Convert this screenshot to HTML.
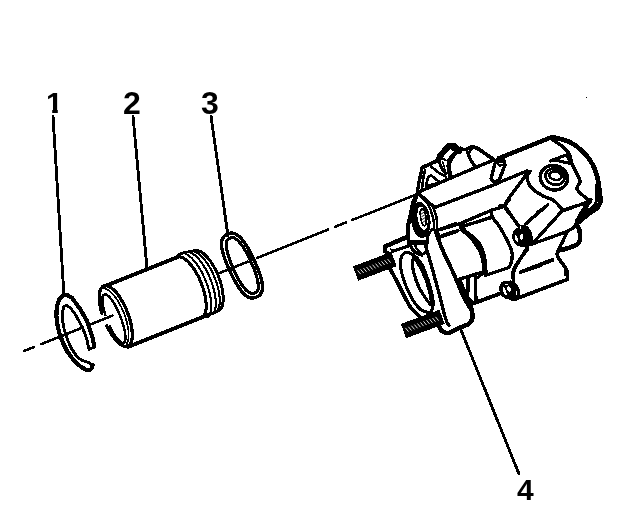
<!DOCTYPE html>
<html><head><meta charset="utf-8"><title>Caliper piston exploded view</title>
<style>
html,body{margin:0;padding:0;background:#fff;}
body{width:640px;height:524px;overflow:hidden;position:relative;}
svg{position:absolute;left:0;top:0;display:block;}
.lbl{position:absolute;font-family:"Liberation Sans",sans-serif;font-weight:bold;font-size:30px;line-height:30px;color:#000;will-change:transform;-webkit-font-smoothing:antialiased;}
</style></head><body>
<svg width="640" height="524" viewBox="0 0 640 524" stroke-linecap="round" stroke-linejoin="round" shape-rendering="crispEdges">
<path d="M24.0 351.0 L34.0 347.0" stroke="#000" stroke-width="2.6" fill="none"/>
<path d="M41.0 344.2 L81.5 328.1" stroke="#000" stroke-width="2.6" fill="none"/>
<path d="M89.5 324.9 L112.5 315.7" stroke="#000" stroke-width="2.6" fill="none"/>
<path d="M217.0 274.0 L247.8 261.7" stroke="#000" stroke-width="2.6" fill="none"/>
<path d="M257.0 258.0 L328.0 229.7" stroke="#000" stroke-width="2.6" fill="none"/>
<path d="M335.0 226.9 L346.0 222.5" stroke="#000" stroke-width="2.6" fill="none"/>
<path d="M352.5 219.9 L416.0 194.6" stroke="#000" stroke-width="2.6" fill="none"/>
<path d="M53.0 116.0 L64.0 296.0" stroke="#000" stroke-width="2.86" fill="none"/>
<path d="M133.0 116.0 L147.0 268.0" stroke="#000" stroke-width="2.86" fill="none"/>
<path d="M211.0 116.0 L228.0 236.0" stroke="#000" stroke-width="2.86" fill="none"/>
<path d="M461.0 330.0 L519.0 474.0" stroke="#000" stroke-width="2.86" fill="none"/>
<path d="M94.4 346.7 L92.6 337.6 L87.2 321.3 L79.9 308.6 L71.8 297.7 L67.5 295.2 L63.8 295.0 L59.6 298.6 L56.7 306.8 L56.4 316.0 L57.5 325.0 L59.7 334.0 L63.0 343.0 L67.0 351.0 L71.6 357.6 L76.4 363.0 L81.7 367.4 L86.0 369.6 L89.9 370.1 L92.0 368.0 L92.6 364.9" fill="none" stroke="#000" stroke-width="4.16" />
<path d="M94.4 346.7 L89.0 349.4 L86.5 338.0 L82.5 327.5 L75.0 313.8 L70.0 307.5 L66.4 305.4 L64.0 306.5 L62.6 311.0 L62.4 320.0 L64.5 331.0 L67.6 340.0 L71.2 348.0 L75.6 354.6 L79.4 358.6 L82.8 360.8 L87.5 362.0 L92.6 364.9" fill="none" stroke="#000" stroke-width="2.86" />
<path d="M106.7 325.7 L108.1 328.4 L109.6 331.1 L111.1 333.6 L112.7 335.9 L114.3 338.1 L115.9 340.0 L117.5 341.7 L119.1 343.2 L120.6 344.4 L122.2 345.3 L123.6 346.0 L125.0 346.3 L126.3 346.4 L127.5 346.2 L128.6 345.7 L129.5 344.9 L130.4 343.9 L131.0 342.5 L131.6 340.9 L132.0 339.1 L132.2 337.1 L132.3 334.8 L132.2 332.4 L132.0 329.8 L131.6 327.1 L131.1 324.3 L130.4 321.4 L129.6 318.5 L128.6 315.5 L127.5 312.5 L126.4 309.6 L125.1 306.7 L123.7 303.9 L122.2 301.3 L120.7 298.7 L119.2 296.4 L117.6 294.2 L116.0 292.2 L114.3 290.5 L112.7 289.0 L111.2 287.8 L109.7 286.8 L108.2 286.1 L106.8 285.7 L105.5 285.6 L104.3 285.7 L103.2 286.2 L102.2 287.0 L101.4 288.0 L100.6 289.3 L100.1 290.8 L99.7 292.6 L99.4 294.6 L99.3 296.8 L99.3 299.2 L99.6 301.8 L99.9 304.5 L100.4 307.3 L101.1 310.2 L101.9 313.1" fill="none" stroke="#000" stroke-width="3.25" />
<path d="M126.6 344.2 L126.9 343.6 L127.2 342.9 L127.5 342.2 L127.8 341.4 L128.0 340.6 L128.2 339.7 L128.4 338.8 L128.5 337.9 L128.6 336.8 L128.6 335.8 L128.6 334.7 L128.6 333.5 L128.6 332.4 L128.5 331.1 L128.3 329.9 L128.2 328.6 L128.0 327.3 L127.7 326.0 L127.4 324.7 L127.1 323.3 L126.8 322.0 L126.4 320.6 L126.0 319.2 L125.6 317.8 L125.1 316.4 L124.6 315.0 L124.1 313.6 L123.6 312.3 L123.0 310.9 L122.4 309.6 L121.8 308.2 L121.2 306.9 L120.5 305.6 L119.8 304.4 L119.1 303.1 L118.4 301.9 L117.7 300.8 L117.0 299.6 L116.2 298.6 L115.5 297.5 L114.7 296.5 L114.0 295.5 L113.2 294.6 L112.4 293.8 L111.7 293.0 L110.9 292.2 L110.1 291.5 L109.4 290.9 L108.6 290.3 L107.9 289.8 L107.2 289.4 L106.4 289.0 L105.7 288.7 L105.0 288.4 L104.4 288.2 L103.7 288.1 L103.1 288.0 L102.5 288.0 L101.9 288.1 L101.3 288.2" fill="none" stroke="#000" stroke-width="1.69" />
<path d="M109.7 326.1 L110.8 328.3 L111.9 330.4 L113.0 332.4 L114.1 334.3 L115.2 336.0 L116.3 337.6 L117.4 338.9 L118.5 340.1 L119.5 341.1 L120.4 341.9 L121.3 342.4 L122.1 342.8 L122.9 342.9 L123.5 342.8 L124.1 342.4 L124.6 341.8 L124.9 341.0 L125.2 340.0 L125.4 338.8 L125.4 337.4 L125.4 335.8 L125.2 334.1 L124.9 332.2 L124.6 330.2 L124.1 328.0 L123.5 325.8 L122.8 323.5 L122.1 321.2 L121.3 318.9 L120.4 316.5 L119.4 314.2 L118.4 311.9 L117.4 309.6 L116.3 307.5 L115.2 305.5 L114.1 303.5 L113.0 301.8 L111.8 300.1 L110.8 298.7 L109.7 297.4 L108.7 296.4 L107.7 295.5 L106.8 294.9 L105.9 294.5 L105.2 294.3 L104.5 294.4 L103.9 294.7 L103.4 295.2 L103.0 295.9 L102.7 296.8 L102.5 298.0 L102.4 299.3 L102.4 300.8 L102.5 302.5 L102.8 304.4 L103.1 306.3 L103.6 308.4 L104.1 310.6 L104.7 312.9 L105.4 315.2" fill="none" stroke="#000" stroke-width="2.47" />
<path d="M103.8 286.5 L177.2 257.2" stroke="#000" stroke-width="3.9" fill="none"/>
<path d="M127.8 346.9 L207.7 315.0" stroke="#000" stroke-width="3.9" fill="none"/>
<path d="M201.1 318.4 L201.7 318.1 L202.3 317.7 L202.8 317.3 L203.3 316.7 L203.8 316.1 L204.2 315.5 L204.6 314.7 L205.0 313.9 L205.3 313.0 L205.5 312.0 L205.8 311.0 L205.9 309.9 L206.1 308.8 L206.1 307.6 L206.2 306.4 L206.2 305.1 L206.1 303.7 L206.0 302.4 L205.9 300.9 L205.7 299.5 L205.5 298.0 L205.2 296.5 L204.9 295.0 L204.5 293.4 L204.1 291.8 L203.7 290.2 L203.2 288.7 L202.7 287.1 L202.1 285.5 L201.6 283.9 L200.9 282.3 L200.3 280.8 L199.6 279.2 L198.9 277.7 L198.2 276.2 L197.4 274.8 L196.6 273.3 L195.8 272.0 L195.0 270.6 L194.2 269.3 L193.3 268.0 L192.4 266.8 L191.6 265.7 L190.7 264.6 L189.8 263.6 L188.9 262.6 L188.0 261.7 L187.1 260.9 L186.3 260.1 L185.4 259.4 L184.5 258.8 L183.7 258.3 L182.8 257.8 L182.0 257.4 L181.2 257.1 L180.4 256.9 L179.7 256.8 L178.9 256.7 L178.2 256.7 L177.5 256.8" fill="none" stroke="#000" stroke-width="3.12" />
<path d="M208.0 317.2 L208.5 316.7 L209.0 316.1 L209.4 315.4 L209.8 314.7 L210.1 313.9 L210.4 313.0 L210.7 312.1 L210.9 311.1 L211.1 310.0 L211.2 308.9 L211.3 307.7 L211.3 306.4 L211.3 305.1 L211.3 303.8 L211.2 302.4 L211.0 301.0 L210.8 299.5 L210.6 298.0 L210.4 296.5 L210.0 294.9 L209.7 293.3 L209.3 291.7 L208.9 290.1 L208.4 288.5 L207.9 286.9 L207.4 285.2 L206.8 283.6 L206.2 282.0 L205.5 280.3 L204.8 278.7 L204.1 277.1 L203.4 275.6 L202.7 274.0 L201.9 272.5 L201.1 271.1 L200.3 269.6 L199.5 268.2 L198.6 266.9 L197.7 265.6 L196.9 264.3 L196.0 263.1 L195.1 262.0 L194.2 260.9 L193.3 259.9 L192.4 258.9 L191.6 258.0 L190.7 257.2 L189.8 256.4 L188.9 255.8 L188.1 255.2 L187.2 254.6 L186.4 254.2 L185.6 253.8 L184.8 253.5 L184.1 253.3 L183.3 253.2 L182.6 253.2 L181.9 253.2 L181.3 253.3 L180.6 253.5" fill="none" stroke="#000" stroke-width="2.08" />
<path d="M213.0 313.9 L213.5 313.3 L213.9 312.6 L214.2 311.9 L214.6 311.1 L214.9 310.3 L215.1 309.3 L215.3 308.4 L215.5 307.3 L215.6 306.2 L215.7 305.1 L215.7 303.9 L215.7 302.6 L215.7 301.3 L215.6 300.0 L215.5 298.6 L215.3 297.2 L215.1 295.8 L214.9 294.3 L214.6 292.8 L214.3 291.3 L213.9 289.8 L213.5 288.2 L213.0 286.7 L212.6 285.1 L212.1 283.6 L211.5 282.0 L210.9 280.5 L210.3 278.9 L209.7 277.4 L209.0 275.9 L208.4 274.4 L207.6 272.9 L206.9 271.4 L206.1 270.0 L205.4 268.6 L204.6 267.3 L203.8 266.0 L203.0 264.7 L202.1 263.5 L201.3 262.3 L200.4 261.2 L199.6 260.1 L198.7 259.1 L197.9 258.2 L197.0 257.3 L196.1 256.5 L195.3 255.7 L194.5 255.0 L193.6 254.4 L192.8 253.8 L192.0 253.4 L191.2 253.0 L190.4 252.6 L189.6 252.4 L188.9 252.2 L188.2 252.1 L187.5 252.1 L186.8 252.1 L186.2 252.2 L185.6 252.4" fill="none" stroke="#000" stroke-width="2.08" />
<path d="M216.6 311.9 L217.1 311.3 L217.5 310.7 L217.9 310.0 L218.3 309.3 L218.6 308.5 L218.9 307.6 L219.1 306.7 L219.3 305.7 L219.5 304.6 L219.6 303.5 L219.7 302.3 L219.7 301.1 L219.7 299.9 L219.7 298.6 L219.6 297.2 L219.4 295.9 L219.2 294.5 L219.0 293.0 L218.8 291.6 L218.5 290.1 L218.1 288.6 L217.8 287.0 L217.3 285.5 L216.9 284.0 L216.4 282.4 L215.9 280.9 L215.3 279.3 L214.7 277.8 L214.1 276.3 L213.5 274.8 L212.8 273.3 L212.1 271.8 L211.4 270.4 L210.6 269.0 L209.9 267.6 L209.1 266.3 L208.3 265.0 L207.5 263.7 L206.7 262.5 L205.8 261.3 L205.0 260.2 L204.1 259.1 L203.3 258.1 L202.4 257.2 L201.6 256.3 L200.7 255.5 L199.8 254.7 L199.0 254.1 L198.2 253.4 L197.3 252.9 L196.5 252.4 L195.7 252.0 L194.9 251.7 L194.2 251.4 L193.4 251.3 L192.7 251.2 L192.0 251.1 L191.3 251.2 L190.7 251.3 L190.0 251.5" fill="none" stroke="#000" stroke-width="2.08" />
<path d="M218.1 311.0 L218.7 310.7 L219.3 310.3 L219.8 309.8 L220.4 309.3 L220.8 308.7 L221.3 308.0 L221.7 307.2 L222.0 306.4 L222.3 305.5 L222.6 304.5 L222.8 303.4 L223.0 302.3 L223.1 301.2 L223.2 300.0 L223.2 298.7 L223.2 297.4 L223.1 296.0 L223.0 294.6 L222.9 293.2 L222.7 291.7 L222.4 290.2 L222.1 288.6 L221.8 287.1 L221.4 285.5 L221.0 283.9 L220.5 282.3 L220.0 280.7 L219.5 279.1 L218.9 277.6 L218.3 276.0 L217.7 274.4 L217.0 272.9 L216.3 271.3 L215.6 269.8 L214.8 268.4 L214.0 266.9 L213.2 265.5 L212.4 264.2 L211.5 262.8 L210.7 261.6 L209.8 260.4 L208.9 259.2 L208.0 258.1 L207.1 257.1 L206.2 256.1 L205.3 255.2 L204.4 254.4 L203.6 253.6 L202.7 253.0 L201.8 252.4 L200.9 251.8 L200.1 251.4 L199.2 251.0 L198.4 250.7 L197.6 250.5 L196.9 250.4 L196.1 250.4 L195.4 250.4 L194.7 250.6 L194.1 250.8" fill="none" stroke="#000" stroke-width="2.99" />
<path d="M176.6 257.1 L180.6 253.5 L185.6 252.4 L190.0 251.5 L194.1 250.8" fill="none" stroke="#000" stroke-width="2.86" />
<path d="M207.7 315.0 L218.1 311.0" fill="none" stroke="#000" stroke-width="2.86" />
<path d="M256.6 297.0 L258.1 296.2 L259.1 295.5 L260.0 294.8 L260.6 293.9 L261.2 293.0 L261.6 292.1 L262.0 291.0 L262.2 289.8 L262.4 288.5 L262.4 287.2 L262.4 285.7 L262.3 284.2 L262.0 282.5 L261.7 280.8 L261.3 279.0 L260.8 277.1 L260.2 275.1 L259.4 272.9 L258.6 270.7 L257.6 268.2 L256.5 265.6 L255.1 262.4 L252.9 257.7 L251.3 254.5 L250.0 251.9 L248.8 249.6 L247.6 247.5 L246.4 245.6 L245.3 243.8 L244.1 242.2 L243.0 240.7 L241.9 239.4 L240.8 238.1 L239.7 237.0 L238.6 236.1 L237.5 235.3 L236.5 234.6 L235.4 234.0 L234.3 233.6 L233.3 233.3 L232.3 233.1 L231.2 233.1 L230.1 233.3 L228.9 233.6 L227.4 234.2 L225.9 235.0 L224.9 235.7 L224.0 236.4 L223.4 237.3 L222.8 238.2 L222.4 239.1 L222.0 240.2 L221.8 241.4 L221.6 242.7 L221.6 244.0 L221.6 245.5 L221.7 247.0 L222.0 248.7 L222.3 250.4 L222.7 252.2 L223.2 254.1 L223.8 256.1 L224.6 258.3 L225.4 260.5 L226.4 263.0 L227.5 265.6 L228.9 268.8 L231.1 273.5 L232.7 276.7 L234.0 279.3 L235.2 281.6 L236.4 283.7 L237.6 285.6 L238.7 287.4 L239.9 289.0 L241.0 290.5 L242.1 291.8 L243.2 293.1 L244.3 294.2 L245.4 295.1 L246.5 295.9 L247.5 296.6 L248.6 297.2 L249.7 297.6 L250.7 297.9 L251.7 298.1 L252.8 298.1 L253.9 297.9 L255.1 297.6 Z" fill="none" stroke="#000" stroke-width="3.38" />
<path d="M254.8 293.1 L255.7 292.6 L256.4 292.1 L256.9 291.5 L257.3 290.9 L257.7 290.1 L258.0 289.2 L258.1 288.3 L258.3 287.3 L258.3 286.1 L258.2 284.9 L258.1 283.6 L257.9 282.2 L257.7 280.7 L257.3 279.2 L256.9 277.6 L256.4 275.9 L255.9 274.1 L255.2 272.2 L254.5 270.2 L253.7 268.1 L252.7 265.9 L251.6 263.4 L250.1 260.0 L248.9 257.5 L247.8 255.4 L246.8 253.4 L245.8 251.5 L244.8 249.8 L243.8 248.2 L242.9 246.7 L241.9 245.3 L241.0 244.1 L240.0 242.9 L239.1 241.8 L238.2 240.9 L237.3 240.1 L236.4 239.3 L235.6 238.8 L234.7 238.3 L233.9 237.9 L233.1 237.7 L232.3 237.6 L231.5 237.6 L230.7 237.8 L229.8 238.1 L228.9 238.6 L228.2 239.1 L227.7 239.7 L227.3 240.3 L226.9 241.1 L226.6 242.0 L226.5 242.9 L226.3 243.9 L226.3 245.1 L226.4 246.3 L226.5 247.6 L226.7 249.0 L226.9 250.5 L227.3 252.0 L227.7 253.6 L228.2 255.3 L228.7 257.1 L229.4 259.0 L230.1 261.0 L230.9 263.1 L231.9 265.3 L233.0 267.8 L234.5 271.2 L235.7 273.7 L236.8 275.8 L237.8 277.8 L238.8 279.7 L239.8 281.4 L240.8 283.0 L241.7 284.5 L242.7 285.9 L243.6 287.1 L244.6 288.3 L245.5 289.4 L246.4 290.3 L247.3 291.1 L248.2 291.9 L249.0 292.4 L249.9 292.9 L250.7 293.3 L251.5 293.5 L252.3 293.6 L253.1 293.6 L253.9 293.4 Z" fill="none" stroke="#000" stroke-width="3.12" />
<path d="M417.2 192.6 L451.6 177.7 L492.3 160.5" fill="none" stroke="#000" stroke-width="3.38" />
<path d="M433.6 207.9 L500.2 182.4" fill="none" stroke="#000" stroke-width="3.38" />
<path d="M418.5 193.4 L433.6 206.7" fill="none" stroke="#000" stroke-width="3.38" />
<path d="M417.2 192.6 L419.1 181.6 L422.2 167.6" fill="none" stroke="#000" stroke-width="3.38" />
<path d="M422.2 167.6 L437.6 160.5 L439.1 155.0 L448.5 144.9 L454.8 144.9 L458.2 149.1 L465.7 149.6 L472.8 146.4 L478.2 148.8 L493.9 159.7" fill="none" stroke="#000" stroke-width="3.77" />
<path d="M437.9 159.8 L438.5 154.6 L447.2 144.4 L454.7 143.9 L457.6 147.2 L454.7 152.6 L451.9 159.2 L447.2 160.4 L442.5 158.8 Z" fill="#000" stroke="#000" stroke-width="1.95" />
<path d="M456.7 152.4 C456.1 153.0 454.3 155.1 453.4 156.3 C452.5 157.6 451.6 159.2 451.2 159.8" fill="none" stroke="#000" stroke-width="3.38"/>
<path d="M442.8 157.3 L450.2 149.1 L453.8 151.7 L446.6 159.7 Z" fill="#fff" stroke="#000" stroke-width="0.65" stroke-opacity="0"/>
<path d="M450.9 158.6 C450.6 159.6 448.9 161.9 448.7 164.8 C448.5 167.7 449.7 174.1 450.0 175.9" fill="none" stroke="#000" stroke-width="4.42"/>
<path d="M438.8 159.8 C439.2 161.1 440.1 165.2 441.3 167.5 C442.4 169.8 445.0 172.7 445.7 173.7" fill="none" stroke="#000" stroke-width="3.12"/>
<path d="M442.5 161.3 L445.4 171.0" fill="none" stroke="#000" stroke-width="1.56" />
<path d="M456.2 152.4 L460.4 152.4 L460.6 147.9" fill="none" stroke="#000" stroke-width="2.86" />
<path d="M425.0 169.9 L423.5 176.9 L421.9 188.7" fill="none" stroke="#000" stroke-width="2.6" />
<path d="M425.8 185.6 L428.2 176.9 L431.3 175.4 L439.9 182.4 L425.8 186.3 Z" fill="none" stroke="#000" stroke-width="2.6" />
<path d="M431.3 166.8 L439.1 173.0 L446.2 176.9" fill="none" stroke="#000" stroke-width="2.6" />
<path d="M467.3 151.9 L470.4 159.7 L475.9 167.6" fill="none" stroke="#000" stroke-width="3.38" />
<path d="M472.8 146.4 L468.9 153.5" fill="none" stroke="#000" stroke-width="2.6" />
<path d="M498.8 158.2 L552.0 137.0" fill="none" stroke="#000" stroke-width="4.42" />
<path d="M495.6 161.3 L491.0 178.5 L493.3 181.6 L498.8 180.9 L505.0 165.2 L503.5 159.0 L498.8 158.2 L495.6 161.3 Z" fill="none" stroke="#000" stroke-width="3.38" />
<path d="M495.6 161.3 L498.8 158.2 L503.5 159.0 L505.0 165.2 L499.6 165.7 Z" fill="#000" stroke="#000" stroke-width="1.95" />
<path d="M499.1 163.2 L502.7 163.2" fill="none" stroke="#000" stroke-width="1.04" style="stroke:#fff"/>
<path d="M500.0 182.1 L526.9 171.0 L530.1 171.5" fill="none" stroke="#000" stroke-width="3.38" />
<path d="M527.2 170.8 L524.5 177.0 L520.2 182.8 L507.8 199.6 L504.4 205.8" fill="none" stroke="#000" stroke-width="3.38" />
<path d="M503.5 205.1 L507.4 212.0" fill="none" stroke="#000" stroke-width="2.6" />
<path d="M530.1 171.5 C529.6 172.4 526.7 174.2 526.9 176.9 C527.2 179.7 529.0 184.8 531.6 187.9 C534.3 191.0 538.9 193.6 542.6 195.7 C546.2 197.8 550.4 198.3 553.6 200.4 C556.7 202.5 559.6 206.6 561.4 208.2 C563.2 209.9 564.0 209.8 564.5 210.1" fill="none" stroke="#000" stroke-width="3.38"/>
<ellipse cx="553.9" cy="177.7" rx="13.8" ry="12.2" fill="none" stroke="#000" stroke-width="3.4" transform="rotate(15 553.9 177.7)"/>
<ellipse cx="555.1" cy="176.6" rx="9.6" ry="8.0" fill="none" stroke="#000" stroke-width="2.9" transform="rotate(15 555.1 176.6)"/>
<ellipse cx="555.4" cy="175.7" rx="6.2" ry="4.2" fill="none" stroke="#000" stroke-width="2.6" transform="rotate(10 555.4 175.7)"/>
<path d="M550.1 161.0 L566.9 154.7 L570.5 163.6 L558.2 160.7 Z" fill="none" stroke="#000" stroke-width="3.12" />
<path d="M545.7 206.7 L537.9 212.0" fill="none" stroke="#000" stroke-width="3.12" />
<path d="M551.9 137.0 C554.8 137.8 563.9 139.3 569.1 141.7 C574.3 144.2 579.3 148.1 583.2 151.9 C587.1 155.7 590.3 160.3 592.6 164.4 C594.9 168.6 596.2 172.8 597.3 176.9 C598.4 181.1 598.9 186.7 599.3 189.5 C599.8 192.3 599.8 191.6 600.0 193.8 C600.2 195.9 600.8 200.1 600.2 202.5 C599.7 204.9 598.6 206.4 596.9 208.1 C595.2 209.8 592.6 210.8 590.0 212.8 C587.4 214.7 583.5 218.1 581.2 220.0 C579.0 221.9 577.3 223.3 576.5 224.0" fill="none" stroke="#000" stroke-width="4.68"/>
<path d="M596.2 185.0 C596.3 187.3 597.1 195.2 596.8 198.8 C596.4 202.2 595.5 203.9 594.0 206.0 C592.5 208.1 589.6 209.4 587.5 211.2 C585.4 213.1 582.3 216.2 581.2 217.2" fill="none" stroke="#000" stroke-width="3.12"/>
<path d="M590.2 201.9 C589.6 202.5 587.8 203.8 586.2 205.6 C584.8 207.4 582.8 210.3 581.2 212.8 C579.7 215.2 577.7 219.0 577.0 220.2" fill="none" stroke="#000" stroke-width="3.38"/>
<path d="M576.5 224.0 C576.7 224.4 577.2 225.5 577.8 226.5 C578.2 227.5 579.1 228.0 579.5 230.2 C579.9 232.5 580.4 237.6 580.0 240.0 C579.6 242.4 578.7 243.2 577.0 244.5 C575.3 245.8 572.6 246.6 570.0 247.5 C567.4 248.4 562.7 249.6 561.2 250.0" fill="none" stroke="#000" stroke-width="4.68"/>
<path d="M551.9 139.4 C553.5 140.4 558.4 143.3 561.3 145.6 C564.2 148.0 567.3 150.3 569.1 153.5 C570.9 156.6 570.9 161.0 572.3 164.4 C573.6 167.8 575.6 170.9 576.9 173.8 C578.3 176.7 580.1 179.2 580.1 181.6 C580.1 184.1 576.4 186.3 576.9 188.7 C577.5 191.0 581.0 193.6 583.2 195.7 C585.4 197.8 589.1 200.3 590.3 201.2" fill="none" stroke="#000" stroke-width="3.38"/>
<path d="M564.7 210.1 L590.3 201.2" fill="none" stroke="#000" stroke-width="3.38" />
<path d="M504.7 205.6 L517.2 224.4" fill="none" stroke="#000" stroke-width="3.38" />
<path d="M500.0 205.6 L504.7 205.2" fill="none" stroke="#000" stroke-width="3.38" />
<ellipse cx="524.4" cy="236.2" rx="7" ry="10.5" fill="#000" stroke="#000" stroke-width="2.4" transform="rotate(-15 524.4 236.2)"/>
<ellipse cx="519.9" cy="237.2" rx="6.5" ry="8.5" fill="#000" stroke="#000" stroke-width="2.2" transform="rotate(-15 519.9 237.2)"/>
<ellipse cx="521.6" cy="237" rx="1.7" ry="2.9" fill="#fff" transform="rotate(10 521.6 237)"/>
<ellipse cx="516.4" cy="238.4" rx="1.3" ry="3.8" fill="#fff" transform="rotate(-18 516.4 238.4)"/>
<rect x="519.8" y="226" width="1.3" height="2.6" fill="#fff"/>
<path d="M525.8 223.6 L547.7 204.9" fill="none" stroke="#000" stroke-width="3.38" />
<path d="M562.6 210.3 L587.6 202.5 L590.8 199.4" fill="none" stroke="#000" stroke-width="3.38" />
<path d="M562.6 210.3 L532.1 244.0" fill="none" stroke="#000" stroke-width="3.38" />
<path d="M532.1 244.0 L567.3 231.5 L573.6 227.6 L587.6 205.6" fill="none" stroke="#000" stroke-width="3.38" />
<path d="M567.3 231.5 C566.5 233.2 564.3 238.0 562.6 241.6 C560.9 245.3 557.5 250.3 557.1 253.4 C556.7 256.5 558.8 257.9 560.3 260.4 C561.7 262.9 564.8 265.9 565.7 268.2 C566.6 270.6 565.7 273.5 565.7 274.5" fill="none" stroke="#000" stroke-width="3.38"/>
<path d="M520.3 272.0 L552.4 259.6" fill="none" stroke="#000" stroke-width="3.38" />
<path d="M526.9 250.0 C525.4 252.1 519.9 258.9 517.6 262.5 C515.2 266.2 513.5 268.8 512.9 271.9 C512.2 275.0 513.5 279.7 513.6 281.3" fill="none" stroke="#000" stroke-width="3.38"/>
<path d="M516.0 298.8 L567.6 279.3" fill="none" stroke="#000" stroke-width="3.64" />
<path d="M567.6 279.3 C567.5 277.8 567.9 273.1 566.9 270.3 C565.8 267.6 562.9 264.9 561.4 262.5 C559.8 260.2 558.0 258.2 557.5 256.3 C556.9 254.3 558.1 251.7 558.2 250.8" fill="none" stroke="#000" stroke-width="3.38"/>
<path d="M520.7 271.9 L552.8 260.2" fill="none" stroke="#000" stroke-width="3.38" />
<ellipse cx="512.0" cy="290.9" rx="6.5" ry="9.5" fill="#000" stroke="#000" stroke-width="2.4" transform="rotate(-20 512.0 290.9)"/>
<ellipse cx="507.0" cy="289.9" rx="6.5" ry="8.5" fill="#000" stroke="#000" stroke-width="2.2" transform="rotate(-20 507.0 289.9)"/>
<ellipse cx="504.6" cy="291" rx="1.4" ry="4.4" fill="#fff" transform="rotate(-20 504.6 291)"/>
<ellipse cx="509" cy="289" rx="2.0" ry="2.6" fill="#fff" transform="rotate(-30 509 289)"/>
<rect x="515.8" y="291" width="1.2" height="4.4" fill="#fff"/>
<rect x="505" y="283.6" width="3.2" height="1.1" fill="#fff"/>
<path d="M440.0 229.7 L460.3 223.5 L491.6 210.2 L504.2 206.3 L508.9 200.0" fill="none" stroke="#000" stroke-width="3.38" />
<path d="M443.1 235.2 L458.0 230.5" fill="none" stroke="#000" stroke-width="3.38" />
<path d="M465.0 225.8 L488.5 218.0" fill="none" stroke="#000" stroke-width="3.12" />
<path d="M460.3 223.5 C460.6 224.5 459.8 227.1 461.6 229.4 C463.4 231.8 468.1 233.9 471.3 237.6 C474.5 241.3 478.9 249.1 480.7 251.6 C482.5 254.1 481.5 250.5 482.3 252.5 C483.0 254.5 485.1 260.3 485.4 263.5 C485.7 266.6 484.8 269.6 484.1 271.3 C483.5 273.0 481.9 273.5 481.5 274.0" fill="none" stroke="#000" stroke-width="3.9"/>
<path d="M463.5 231.3 C465.6 233.4 472.9 239.1 476.0 243.8 C479.1 248.5 481.1 254.9 482.3 259.5 C483.4 264.0 482.9 269.2 483.0 271.2" fill="none" stroke="#000" stroke-width="2.6"/>
<path d="M491.6 210.2 C491.8 211.3 491.1 214.5 492.4 217.2 C493.7 220.0 497.0 222.7 499.5 226.6 C501.9 230.5 505.2 236.4 507.3 240.7 C509.4 245.0 511.3 249.0 512.0 252.5 C512.7 256.1 511.9 259.4 511.4 261.9 C510.8 264.4 509.3 266.6 508.9 267.5" fill="none" stroke="#000" stroke-width="3.38"/>
<path d="M459.6 279.1 L482.3 272.2" fill="none" stroke="#000" stroke-width="3.38" />
<path d="M481.5 274.0 L478.0 277.6" fill="none" stroke="#000" stroke-width="2.6" />
<path d="M485.4 275.4 L508.9 267.5" fill="none" stroke="#000" stroke-width="3.38" />
<path d="M459.6 279.1 L467.4 297.9 L473.6 303.4" fill="none" stroke="#000" stroke-width="3.38" />
<path d="M468.2 279.4 L467.7 296.7" fill="none" stroke="#000" stroke-width="3.38" />
<path d="M475.4 277.2 L475.8 302.6" fill="none" stroke="#000" stroke-width="3.64" />
<path d="M473.6 303.4 L501.0 293.2" fill="none" stroke="#000" stroke-width="3.9" />
<path d="M504.2 206.3 L518.2 225.0" fill="none" stroke="#000" stroke-width="3.38" />
<path d="M540.2 211.0 L525.3 224.3" fill="none" stroke="#000" stroke-width="3.38" />
<path d="M527.6 246.9 C526.1 249.6 520.6 258.4 518.2 262.6 C515.9 266.8 514.3 268.6 513.6 272.0 C512.8 275.4 513.6 281.1 513.6 282.9" fill="none" stroke="#000" stroke-width="3.38"/>
<path d="M540.2 265.7 L521.4 272.0" fill="none" stroke="#000" stroke-width="3.38" />
<path d="M432.6 205.6 C433.2 207.7 435.8 214.0 436.6 218.2 C437.4 222.3 436.8 227.6 437.4 230.7 C438.0 233.8 439.9 235.9 440.4 236.9" fill="none" stroke="#000" stroke-width="2.6"/>
<path d="M438.5 229.9 L455.7 223.6" fill="none" stroke="#000" stroke-width="3.38" />
<path d="M440.1 236.9 L457.3 231.0" fill="none" stroke="#000" stroke-width="3.64" />
<path d="M463.6 226.0 L490.2 217.9" fill="none" stroke="#000" stroke-width="3.38" />
<path d="M460.4 224.4 C461.2 225.5 462.2 228.1 465.1 231.0 C468.0 233.9 474.5 237.5 477.6 241.6 C480.8 245.8 482.5 250.5 483.9 255.7 C485.3 260.9 485.5 270.1 485.8 272.9" fill="none" stroke="#000" stroke-width="3.9"/>
<path d="M417.7 193.7 C417.0 195.1 414.6 198.6 413.4 202.0 C412.3 205.4 411.6 210.3 410.8 214.1 C409.9 217.8 408.8 221.2 408.4 224.5 C407.9 227.9 408.0 232.5 407.9 234.1" fill="none" stroke="#000" stroke-width="4.16"/>
<path d="M407.4 233.1 C407.8 234.9 408.7 240.6 409.8 243.6 C410.9 246.6 412.1 249.4 414.1 251.3 C416.1 253.2 420.4 254.4 421.7 255.1" fill="none" stroke="#000" stroke-width="3.38"/>
<path d="M414.6 243.6 C414.9 244.4 415.4 246.8 416.5 248.4 C417.5 250.0 419.4 252.4 420.8 253.2 C422.1 254.0 423.5 254.1 424.6 253.2 C425.6 252.2 426.5 250.1 427.0 247.4 C427.4 244.7 427.4 238.7 427.4 236.9" fill="none" stroke="#000" stroke-width="2.47"/>
<path d="M409.3 242.9 L427.0 242.1" fill="none" stroke="#000" stroke-width="4.68" />
<path d="M419.7 195.1 C421.1 196.6 425.6 200.4 427.8 204.0 C429.9 207.6 431.8 212.6 432.8 216.7 C433.9 220.9 434.3 226.7 434.2 228.8 C434.0 230.9 433.1 227.9 432.0 229.3 C430.9 230.7 428.2 235.8 427.4 237.1" fill="none" stroke="#000" stroke-width="2.47"/>
<ellipse cx="420.7" cy="219.9" rx="9.2" ry="17.6" fill="#000" stroke="#000" stroke-width="1" transform="rotate(-7 420.7 219.9)"/>
<ellipse cx="422.5" cy="218.2" rx="4.9" ry="11.8" fill="#fff" stroke="none" transform="rotate(-9 422.5 218.2)"/>
<ellipse cx="423.3" cy="217.2" rx="2.7" ry="8.6" fill="none" stroke="#000" stroke-width="1.7" transform="rotate(-9 423.3 217.2)"/>
<path d="M420.4 211.4 L423.3 209.5" stroke="#000" stroke-width="0.9" fill="none"/>
<path d="M421.1 214.1 L424.0 212.2" stroke="#000" stroke-width="0.9" fill="none"/>
<path d="M421.7 216.7 L424.7 214.9" stroke="#000" stroke-width="0.9" fill="none"/>
<path d="M422.4 219.4 L425.3 217.5" stroke="#000" stroke-width="0.9" fill="none"/>
<path d="M423.1 222.1 L426.0 220.2" stroke="#000" stroke-width="0.9" fill="none"/>
<path d="M415.7 198.0 C415.1 200.0 412.9 206.2 412.1 210.1 C411.3 214.0 411.0 219.5 410.8 221.4" fill="none" stroke="#000" stroke-width="3.9"/>
<path d="M384.9 246.6 L407.4 236.8" fill="none" stroke="#000" stroke-width="4.55" />
<path d="M384.9 246.6 L384.6 251.4 L388.8 253.4" fill="none" stroke="#000" stroke-width="3.64" />
<path d="M392.9 251.2 L409.3 245.7" fill="none" stroke="#000" stroke-width="3.38" />
<path d="M392.9 251.2 L390.4 249.0" fill="none" stroke="#000" stroke-width="2.08" />
<path d="M355.6 273.6 L394.0 259.0" stroke="#000" stroke-width="15.2" stroke-linecap="butt" fill="none"/>
<path d="M357.6 270.4 L360.7 274.1" stroke="#fff" stroke-width="0.9" stroke-linecap="butt" fill="none"/>
<path d="M360.5 269.3 L363.7 273.0" stroke="#fff" stroke-width="0.9" stroke-linecap="butt" fill="none"/>
<path d="M363.5 268.1 L366.6 271.8" stroke="#fff" stroke-width="0.9" stroke-linecap="butt" fill="none"/>
<path d="M366.5 267.0 L369.6 270.7" stroke="#fff" stroke-width="0.9" stroke-linecap="butt" fill="none"/>
<path d="M369.5 265.8 L372.6 269.5" stroke="#fff" stroke-width="0.9" stroke-linecap="butt" fill="none"/>
<path d="M372.5 264.7 L375.6 268.4" stroke="#fff" stroke-width="0.9" stroke-linecap="butt" fill="none"/>
<path d="M375.5 263.6 L378.6 267.3" stroke="#fff" stroke-width="0.9" stroke-linecap="butt" fill="none"/>
<path d="M378.5 262.4 L381.6 266.1" stroke="#fff" stroke-width="0.9" stroke-linecap="butt" fill="none"/>
<path d="M381.5 261.3 L384.6 265.0" stroke="#fff" stroke-width="0.9" stroke-linecap="butt" fill="none"/>
<path d="M384.5 260.2 L387.6 263.9" stroke="#fff" stroke-width="0.9" stroke-linecap="butt" fill="none"/>
<path d="M387.5 259.0 L390.6 262.7" stroke="#fff" stroke-width="0.9" stroke-linecap="butt" fill="none"/>
<path d="M389.1 267.2 C390.4 269.6 394.6 276.9 396.9 281.3 C399.2 285.7 400.8 289.4 403.2 293.8 C405.5 298.3 408.3 304.3 411.0 307.9 C413.6 311.6 417.8 314.4 419.1 315.7" fill="none" stroke="#000" stroke-width="3.77"/>
<path d="M431.6 311.0 C431.1 311.3 430.4 312.9 428.5 312.6 C426.6 312.3 423.0 311.8 420.1 309.2 C417.1 306.5 413.8 301.8 411.0 296.6 C408.2 291.5 404.9 283.9 403.2 278.2 C401.4 272.5 400.4 266.6 400.5 262.5 C400.6 258.4 402.0 254.9 403.8 253.4 C405.6 252.0 408.5 252.4 411.3 253.9 C414.1 255.4 417.8 258.0 420.7 262.5 C423.6 267.1 426.4 274.8 428.5 281.3 C430.6 287.8 432.7 296.7 433.2 301.6 C433.7 306.6 431.9 309.5 431.6 311.0" fill="none" stroke="#000" stroke-width="3.12"/>
<path d="M430.9 304.8 C430.2 304.0 428.9 302.9 426.9 300.1 C425.0 297.2 421.3 292.3 419.1 287.6 C416.9 282.9 414.7 276.6 413.6 271.9 C412.6 267.2 412.2 261.0 412.9 259.4 C413.5 257.8 415.5 259.4 417.6 262.5 C419.6 265.6 423.3 273.0 425.4 278.2 C427.5 283.4 429.0 289.6 430.1 293.8 C431.1 298.0 431.4 301.6 431.6 303.2" fill="none" stroke="#000" stroke-width="3.25"/>
<path d="M425.4 245.3 C426.2 247.9 428.0 253.7 430.1 261.0 C432.2 268.3 435.3 279.5 437.9 289.1 C440.5 298.8 443.9 312.9 445.7 318.9 C447.6 324.9 448.3 324.1 448.9 325.1" fill="none" stroke="#000" stroke-width="3.38"/>
<path d="M435.6 231.2 C436.7 234.4 439.6 243.0 442.6 250.0 C445.6 257.0 450.2 265.9 453.6 273.5 C456.9 281.0 460.1 289.4 462.9 295.4 C465.8 301.4 469.5 307.1 470.8 309.5" fill="none" stroke="#000" stroke-width="3.9"/>
<path d="M438.7 326.0 C439.3 326.9 440.9 330.3 442.6 331.5 C444.3 332.6 446.2 333.6 448.9 333.0 C451.5 332.5 454.9 329.9 458.2 328.3 C461.6 326.8 466.9 325.3 469.2 323.6 C471.5 322.0 471.9 320.6 472.3 318.2 C472.7 315.7 472.3 311.9 471.5 308.8 C470.8 305.6 469.3 302.5 467.6 299.4 C465.9 296.3 462.4 291.6 461.4 290.0" fill="none" stroke="#000" stroke-width="4.55"/>
<path d="M403.5 331.0 L442.1 316.9" stroke="#000" stroke-width="15.2" stroke-linecap="butt" fill="none"/>
<path d="M405.4 327.9 L408.5 331.6" stroke="#fff" stroke-width="0.9" stroke-linecap="butt" fill="none"/>
<path d="M408.4 326.8 L411.5 330.5" stroke="#fff" stroke-width="0.9" stroke-linecap="butt" fill="none"/>
<path d="M411.4 325.7 L414.5 329.4" stroke="#fff" stroke-width="0.9" stroke-linecap="butt" fill="none"/>
<path d="M414.4 324.6 L417.5 328.3" stroke="#fff" stroke-width="0.9" stroke-linecap="butt" fill="none"/>
<path d="M417.4 323.5 L420.5 327.2" stroke="#fff" stroke-width="0.9" stroke-linecap="butt" fill="none"/>
<path d="M420.5 322.4 L423.5 326.1" stroke="#fff" stroke-width="0.9" stroke-linecap="butt" fill="none"/>
<path d="M423.5 321.3 L426.5 325.0" stroke="#fff" stroke-width="0.9" stroke-linecap="butt" fill="none"/>
<path d="M426.5 320.2 L429.5 323.9" stroke="#fff" stroke-width="0.9" stroke-linecap="butt" fill="none"/>
<path d="M429.5 319.1 L432.5 322.8" stroke="#fff" stroke-width="0.9" stroke-linecap="butt" fill="none"/>
<path d="M432.5 318.0 L435.5 321.7" stroke="#fff" stroke-width="0.9" stroke-linecap="butt" fill="none"/>
<path d="M435.5 316.9 L438.5 320.6" stroke="#fff" stroke-width="0.9" stroke-linecap="butt" fill="none"/>
<rect x="586" y="97" width="1.4" height="1.4" fill="#000"/>
</svg>
<div class="lbl" style="left:46px;top:87.5px;clip-path:polygon(0 0,100% 0,100% 21.6px,11.8px 21.6px,11.8px 100%,6.2px 100%,6.2px 21.6px,0 21.6px);">1</div>
<div class="lbl" style="left:122.5px;top:87px;font-size:32px;line-height:32px;">2</div>
<div class="lbl" style="left:200.5px;top:86.5px;font-size:32px;line-height:32px;">3</div>
<div class="lbl" style="left:517px;top:475px;">4</div>
</body></html>
